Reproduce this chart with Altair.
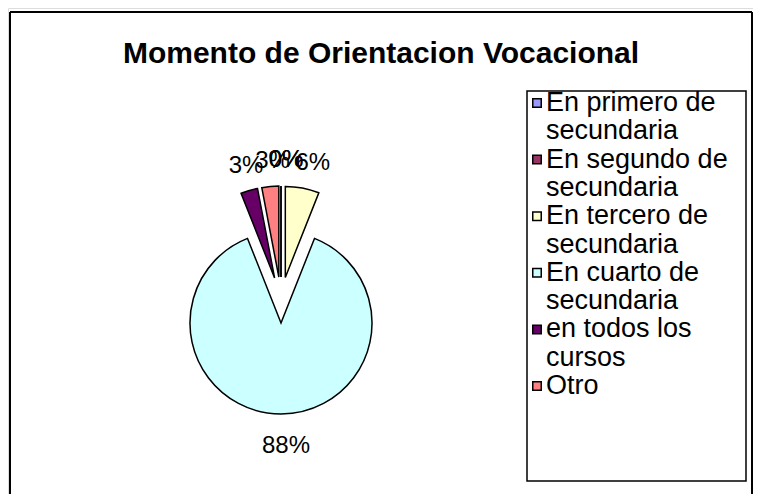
import textwrap
import altair as alt
import pandas as pd

# ---- data ----
categories = [
    "En primero de secundaria",
    "En segundo de secundaria",
    "En tercero de secundaria",
    "En cuarto de secundaria",
    "en todos los cursos",
    "Otro",
]
values = [0, 0, 6, 88, 3, 3]
colors = ["#9999FF", "#993366", "#FFFFCC", "#CCFFFF", "#660066", "#FF8080"]
title_text = "Momento de Orientacion Vocacional"

# ---- layout (chart pixel coordinates; page offset 8px) ----
W, H = 745, 486
CX, CY = 273, 292      # pie centre
R = 91                 # pie radius
EXPLODE = 23           # explosion offset
LABEL_GAP = 29
LABEL_SHIFT_X = 5
LABEL_SHIFT_Y = 3
LEG_X0, LEG_X1, LEG_Y0, LEG_Y1 = 519, 738, 83, 473
LEG_ROW0, LEG_ROW_H = 95, 28.3
FONT = "Liberation Sans, Arial, sans-serif"

pie_df = pd.DataFrame({"cat": categories, "v": values, "idx": list(range(len(categories)))})

# legend rows (wrapped text)
rows = []
sym = []
r = 0
for i, c in enumerate(categories):
    lines = textwrap.wrap(c, width=13)
    sym.append({"cat": c, "row": r})
    for ln in lines:
        rows.append({"line": ln, "row": r})
        r += 1
leg_text_df = pd.DataFrame(rows)
leg_sym_df = pd.DataFrame(sym)

color = alt.Color("cat:N", scale=alt.Scale(domain=categories, range=colors), legend=None)

base_pie = (
    alt.Chart(pie_df)
    .transform_joinaggregate(total="sum(v)")
    .transform_window(cum="sum(v)", sort=[alt.SortField("idx")], frame=[None, 0])
    .transform_calculate(
        t1="datum.cum / datum.total",
        t0="(datum.cum - datum.v) / datum.total",
        mid="2 * PI * (datum.cum - datum.v / 2) / datum.total",
    )
    .transform_calculate(
        px=f"{CX} + {EXPLODE} * sin(datum.mid)",
        py=f"{CY} - {EXPLODE} * cos(datum.mid)",
        lx=f"{CX} + {EXPLODE + R + LABEL_GAP} * sin(datum.mid) + {LABEL_SHIFT_X}",
        ly=f"{CY} - {EXPLODE + R + LABEL_GAP} * cos(datum.mid) + {LABEL_SHIFT_Y}",
        lab="format(datum.v / datum.total, '.0%')",
    )
)

arcs = base_pie.mark_arc(outerRadius=R, stroke="black", strokeWidth=1.5, strokeJoin="miter").encode(
    theta=alt.Theta("t0:Q", scale=alt.Scale(domain=[0, 1])),
    theta2="t1:Q",
    x=alt.X("px:Q", scale=None, axis=None),
    y=alt.Y("py:Q", scale=None, axis=None),
    color=color,
)

labels = base_pie.mark_text(font=FONT, fontSize=24, color="black", baseline="middle", align="center").encode(
    x=alt.X("lx:Q", scale=None, axis=None),
    y=alt.Y("ly:Q", scale=None, axis=None),
    text="lab:N",
)

frame_df = pd.DataFrame({"x": [2, 2, 744], "x2": [2, 744, 744], "y": [4, 4, 4], "y2": [H + 10, 4, H + 10]})
frame = alt.Chart(frame_df).mark_rule(color="black", strokeWidth=2).encode(
    x=alt.X("x:Q", scale=None, axis=None),
    x2="x2:Q",
    y=alt.Y("y:Q", scale=None, axis=None),
    y2="y2:Q",
)

title = alt.Chart(pd.DataFrame({"t": [title_text]})).mark_text(
    font=FONT, fontSize=30, fontWeight="bold", color="black", baseline="alphabetic", align="center"
).encode(x=alt.value(373), y=alt.value(55), text="t:N")

legend_box = alt.Chart(pd.DataFrame({"a": [0]})).mark_rect(
    fill="white", stroke="black", strokeWidth=1.5
).encode(x=alt.value(LEG_X0), x2=alt.value(LEG_X1), y=alt.value(LEG_Y0), y2=alt.value(LEG_Y1))

legend_sym = (
    alt.Chart(leg_sym_df)
    .transform_calculate(sy=f"{LEG_ROW0} + datum.row * {LEG_ROW_H}")
    .mark_square(size=72, stroke="black", strokeWidth=1.5, opacity=1)
    .encode(
        x=alt.value(LEG_X0 + 10),
        y=alt.Y("sy:Q", scale=None, axis=None),
        color=color,
    )
)

legend_text = (
    alt.Chart(leg_text_df)
    .transform_calculate(sy=f"{LEG_ROW0} + datum.row * {LEG_ROW_H}")
    .mark_text(font=FONT, fontSize=27, color="black", align="left", baseline="middle")
    .encode(x=alt.value(LEG_X0 + 19), y=alt.Y("sy:Q", scale=None, axis=None), text="line:N")
)

chart = (
    alt.layer(frame, title, legend_box, legend_sym, legend_text, arcs, labels)
    .properties(width=W, height=H, padding=0, autosize=alt.AutoSizeParams(type="none"))
    .configure_view(stroke=None)
    .configure(background="white")
)

chart.save("out.html", embed_options={"renderer": "svg", "actions": False})
